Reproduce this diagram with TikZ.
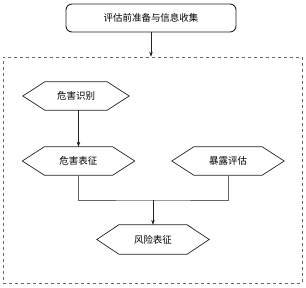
\documentclass[tikz,border=0pt]{standalone}
\usepackage{fontspec}
\setmainfont{Noto Sans CJK SC}
\usepackage{tikz}
\usetikzlibrary{positioning,arrows.meta,calc}
\definecolor{flowline}{HTML}{222222}
\definecolor{flowgray}{HTML}{666666}
\tikzset{startbox/.style={rectangle, rounded corners=6pt, draw=flowline, line width=0.9pt, minimum width=170pt, minimum height=28pt, inner sep=2pt, font=\fontsize{9.5}{11}\selectfont}}
\tikzset{hexbox/.style={rectangle, minimum width=112pt, minimum height=28pt, inner sep=2pt, font=\fontsize{9.5}{11}\selectfont}}
\tikzset{hexline/.style={draw=flowline, line width=0.7pt, line join=miter}}
\tikzset{flowedge/.style={-{Stealth[length=5pt, width=3.5pt]}, draw=flowline, line width=0.5pt}}
\tikzset{flowjoin/.style={draw=flowgray, line width=0.7pt}}

\begin{document}
\begin{tikzpicture}[x=1pt, y=-1pt]
  \useasboundingbox (0,0) rectangle (306,288);
  \node[draw=flowgray, dashed, line width=0.6pt, minimum width=299pt, minimum height=226pt, inner sep=0pt] (evalframe) at (152.5,170) {};

  \node[startbox] (prepare) at (151,18) {评估前准备与信息收集};
  \node[hexbox, minimum width=106pt] (hazid) at (76,96) {危害识别};
  \node[hexbox] (hazchar) at (78.5,161) {危害表征};
  \node[hexbox] (expass) at (228,161) {暴露评估};
  \node[hexbox, minimum height=29pt] (riskchar) at (153,239.5) {风险表征};
  \coordinate (joinpt) at (153,200);

  % hexagon outlines
  \foreach \n in {hazid,hazchar,expass,riskchar}
    \draw[hexline] (\n.west) -- ($(\n.north west)+(22,0)$) -- ($(\n.north east)+(-22,0)$)
      -- (\n.east) -- ($(\n.south east)+(-22,0)$) -- ($(\n.south west)+(22,0)$) -- cycle;

  \draw[flowedge] (prepare) -- (prepare |- evalframe.north);
  \draw[flowedge] (hazid.south -| hazchar) -- (hazchar.north);
  \draw[flowjoin] (hazchar.south) |- (joinpt) -| (expass.south);
  \draw[flowedge] (joinpt) -- (riskchar.north);
\end{tikzpicture}
\end{document}
